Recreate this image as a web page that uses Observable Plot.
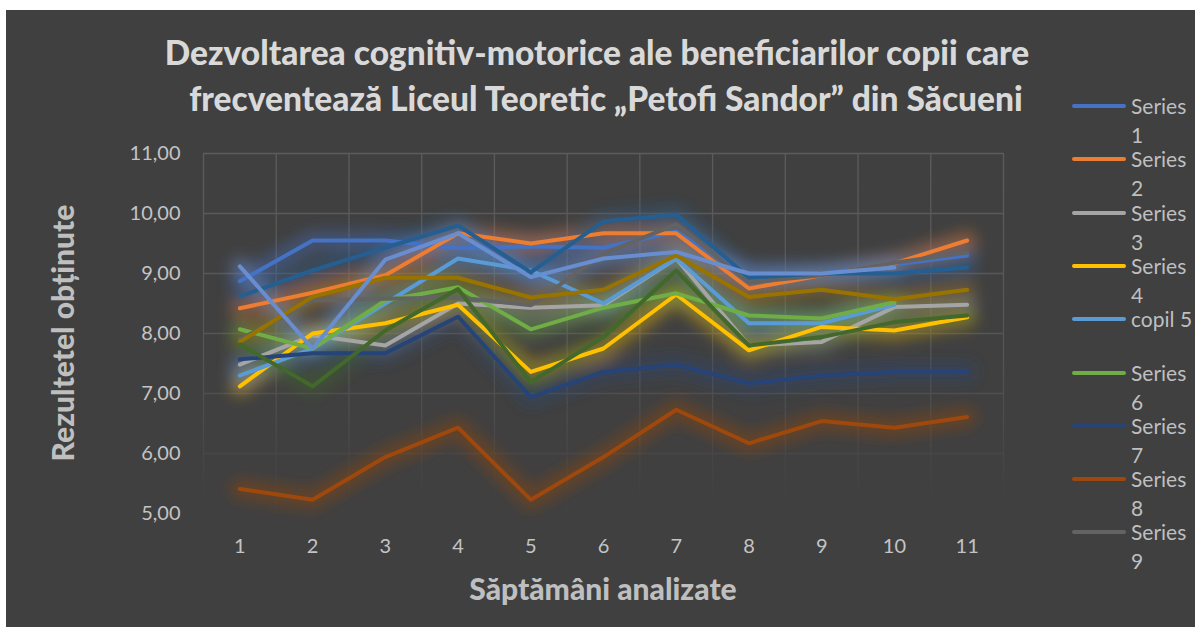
<!DOCTYPE html>
<html><head><meta charset="utf-8">
<script src="https://cdn.jsdelivr.net/npm/d3@7"></script>
<script src="https://cdn.jsdelivr.net/npm/@observablehq/plot@0.6"></script>
<style>
html,body{margin:0;padding:0;background:#fff;width:1197px;height:629px;overflow:hidden;}
#chart{position:absolute;left:6px;top:10px;width:1189px;height:617px;background:#404040;overflow:hidden;font-family:Lato,"Open Sans",sans-serif;}
.tl{position:absolute;white-space:nowrap;color:#d9d9d9;font-weight:900;font-size:33.5px;line-height:46px;transform:translateX(-50%);}
#ylab{position:absolute;left:56px;top:323px;transform:translate(-50%,-50%) rotate(-90deg);white-space:nowrap;color:#bfbfbf;font-weight:900;font-size:30px;line-height:34px;}
#xlab{position:absolute;left:597px;top:578px;transform:translate(-50%,-50%);white-space:nowrap;color:#bfbfbf;font-weight:900;font-size:30px;line-height:34px;}
#plot{position:absolute;left:0;top:120px;}
.lg{position:absolute;left:1125px;width:70px;color:#bfbfbf;font-size:21px;line-height:29px;}
.lgline{position:absolute;left:1066px;width:54px;height:4px;border-radius:2px;}
</style>
</head><body>
<div id="chart">
  <div class="tl" id="t1" style="left:591px;top:19px;">Dezvoltarea cognitiv-motorice ale beneficiarilor copii care</div>
  <div class="tl" id="t2" style="left:600px;top:65px;">frecventează Liceul Teoretic „Petofi Sandor” din Săcueni</div>
  <div id="ylab">Rezultetel obținute</div>
  <div id="xlab">Săptămâni analizate</div>
  <div id="plot"></div>
  <div id="legend"></div>
</div>
<script>
const weeks = [1, 2, 3, 4, 5, 6, 7, 8, 9, 10, 11];
const seriesNames = ["Series 1","Series 2","Series 3","Series 4","copil 5","Series 6","Series 7","Series 8","Series 9","Series 10","Series 11","Series 12","Series 13"];
const seriesColors = ["#4472C4","#ED7D31","#A5A5A5","#FFC000","#5B9BD5","#70AD47","#264478","#9E480E","#636363","#997300","#255E91","#43682B","#698ED0"];
const s1  = [8.87, 9.55, 9.55, 9.42, 9.45, 9.43, 9.70, 8.95, 9.00, 9.15, 9.30];
const s2  = [8.42, 8.68, 8.97, 9.67, 9.50, 9.67, 9.67, 8.75, 8.97, 9.17, 9.55];
const s3  = [7.48, 7.97, 7.80, 8.50, 8.43, 8.47, 9.25, 7.80, 7.86, 8.44, 8.48];
const s4  = [7.12, 8.00, 8.17, 8.48, 7.36, 7.75, 8.65, 7.72, 8.11, 8.05, 8.27];
const s5  = [7.30, 7.75, 8.50, 9.25, 9.05, 8.50, 9.25, 8.17, 8.17, 8.48, null];
const s6  = [8.07, 7.75, 8.55, 8.77, 8.07, 8.43, 8.67, 8.30, 8.25, 8.52, null];
const s7  = [7.57, 7.67, 7.67, 8.28, 6.94, 7.36, 7.48, 7.17, 7.30, 7.36, 7.36];
const s8  = [5.41, 5.23, 5.94, 6.43, 5.23, 5.94, 6.73, 6.17, 6.54, 6.43, 6.61];
const s9  = [7.90, 8.55, 8.58, 8.60, 8.47, 9.33, 9.82, 8.85, 8.97, 9.18, 9.35];
const s10 = [7.86, 8.61, 8.93, 8.93, 8.60, 8.73, 9.30, 8.61, 8.73, 8.57, 8.73];
const s11 = [8.62, 9.05, 9.43, 9.80, 9.02, 9.87, 9.98, 8.93, 9.00, 9.00, 9.10];
const s12 = [7.82, 7.12, 8.05, 8.74, 7.19, 7.94, 9.05, 7.80, 7.94, 8.19, 8.30];
const s13 = [9.12, 7.75, 9.23, 9.67, 8.94, 9.25, 9.36, 9.00, 9.00, 9.10, null];
const yTicks = [5, 6, 7, 8, 9, 10, 11];
const legendShown = 9;

const allSeries = [s1,s2,s3,s4,s5,s6,s7,s8,s9,s10,s11,s12,s13];
const data = [];
allSeries.forEach((vals, i) => vals.forEach((v, j) => {
  if (v != null) data.push({series: seriesNames[i], week: weeks[j], value: v});
}));
const edges = [weeks[0] - 0.5, ...weeks.map(w => w + 0.5)];
const fmt = d => d.toFixed(2).replace(".", ",");
const GLOW_W = 20;

const svg = Plot.plot({
  width: 1189, height: 480,
  marginTop: 23, marginBottom: 97, marginLeft: 197, marginRight: 192,
  style: {background: "transparent", color: "#c4c4c4", fontFamily: "Lato, 'Open Sans', sans-serif", fontSize: "20px"},
  x: {type: "linear", domain: [edges[0], edges[edges.length - 1]]},
  y: {domain: [yTicks[0], yTicks[yTicks.length - 1]]},
  color: {domain: seriesNames, range: seriesColors},
  marks: [
    Plot.ruleY(yTicks, {stroke: "url(#gridFade)", strokeWidth: 1.3}),
    Plot.ruleX(edges, {stroke: "url(#gridFade)", strokeWidth: 1.3}),
    Plot.line(data, {x: "week", y: "value", z: "series", stroke: "series", strokeWidth: GLOW_W, strokeOpacity: 0.38, strokeLinejoin: "round", strokeLinecap: "round"}),
    Plot.line(data, {x: "week", y: "value", z: "series", stroke: "series", strokeWidth: 4, strokeLinejoin: "round", strokeLinecap: "round"}),
    Plot.axisX(weeks, {tickSize: 0, tickPadding: 25, label: null, tickFormat: d => String(d)}),
    Plot.axisY(yTicks, {tickSize: 0, tickPadding: 23, label: null, tickFormat: fmt})
  ]
});

const s = d3.select(svg);
const defs = s.insert("defs", ":first-child");
defs.append("filter").attr("id", "glowBlur").attr("filterUnits", "userSpaceOnUse")
  .attr("x", 0).attr("y", 0).attr("width", 1189).attr("height", 480)
  .append("feGaussianBlur").attr("stdDeviation", 7);
const g = defs.append("linearGradient").attr("id", "gridFade").attr("gradientUnits", "userSpaceOnUse")
  .attr("x1", 0).attr("x2", 0).attr("y1", 23).attr("y2", 383);
g.append("stop").attr("offset", "0%").attr("stop-color", "#5c5c5c");
g.append("stop").attr("offset", "55%").attr("stop-color", "#555555");
g.append("stop").attr("offset", "95%").attr("stop-color", "#414141");
s.selectAll(`g[stroke-width="${GLOW_W}"]`).attr("filter", "url(#glowBlur)");
document.getElementById("plot").appendChild(svg);

const legend = document.getElementById("legend");
seriesNames.slice(0, legendShown).forEach((name, k) => {
  const y = 96 + 53.3 * k;
  const ln = document.createElement("div");
  ln.className = "lgline";
  ln.style.top = (y - 2) + "px";
  ln.style.background = seriesColors[k];
  legend.appendChild(ln);
  const tx = document.createElement("div");
  tx.className = "lg";
  tx.style.top = (y - 15) + "px";
  tx.textContent = name;
  legend.appendChild(tx);
});
</script>
</body></html>
